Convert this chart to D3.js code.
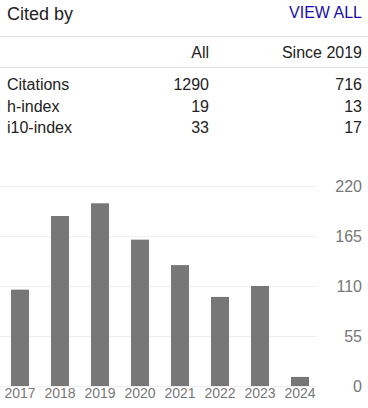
<!DOCTYPE html>
<html>
<head>
  <script src="https://d3js.org/d3.v7.min.js"></script>
  <style>
    body { margin: 0; background: #fff; }
    svg { display: block; font-family: Arial, "Liberation Sans", sans-serif; }
  </style>
</head>
<body>
  <div id="chart"></div>
  <script>
    // table data
    const columns = ["All", "Since 2019"];
    const rowLabels = ["Citations", "h-index", "i10-index"];
    const allValues = [1290, 19, 33];
    const sinceValues = [716, 13, 17];

    // citations per year
    const years = ["2017", "2018", "2019", "2020", "2021", "2022", "2023", "2024"];
    const counts = [106, 187, 201, 161, 133, 98, 110, 10];
    const yTicks = [0, 55, 110, 165, 220];

    const W = 368, H = 408;

    const svg = d3.select("#chart")
      .append("svg")
      .attr("width", W)
      .attr("height", H);

    // header
    svg.append("text")
      .attr("x", 7)
      .attr("y", 19.5)
      .attr("font-size", 18)
      .attr("fill", "#222")
      .text("Cited by");

    svg.append("text")
      .attr("x", 362)
      .attr("y", 17.5)
      .attr("text-anchor", "end")
      .attr("font-size", 16)
      .attr("fill", "#1a0dab")
      .text("VIEW ALL");

    svg.append("line")
      .attr("x1", 0).attr("x2", W)
      .attr("y1", 36.5).attr("y2", 36.5)
      .attr("stroke", "#e0e0e0");

    // column heads
    const colX = [209, 362];
    svg.selectAll(".colhead")
      .data(columns)
      .enter().append("text")
      .attr("class", "colhead")
      .attr("x", (d, i) => colX[i])
      .attr("y", 57.5)
      .attr("text-anchor", "end")
      .attr("font-size", 16)
      .attr("fill", "#222")
      .text(d => d);

    svg.append("line")
      .attr("x1", 0).attr("x2", W)
      .attr("y1", 67.5).attr("y2", 67.5)
      .attr("stroke", "#e0e0e0");

    const rowY = [90, 111.5, 133];
    const rows = svg.selectAll(".row")
      .data(rowLabels)
      .enter().append("g")
      .attr("class", "row")
      .attr("font-size", 16)
      .attr("fill", "#222");

    rows.append("text")
      .attr("x", 7)
      .attr("y", (d, i) => rowY[i])
      .text(d => d);

    rows.append("text")
      .attr("x", colX[0])
      .attr("y", (d, i) => rowY[i])
      .attr("text-anchor", "end")
      .text((d, i) => allValues[i]);

    rows.append("text")
      .attr("x", colX[1])
      .attr("y", (d, i) => rowY[i])
      .attr("text-anchor", "end")
      .text((d, i) => sinceValues[i]);

    // bar chart
    const x = d3.scaleBand()
      .domain(years)
      .range([0, 320])
      .paddingInner(0.55)
      .paddingOuter(0.275);

    const y = d3.scaleLinear()
      .domain([0, 220])
      .range([386, 186]);

    svg.selectAll(".grid")
      .data(yTicks)
      .enter().append("line")
      .attr("class", "grid")
      .attr("x1", 0).attr("x2", 317)
      .attr("y1", d => Math.round(y(d)) + 0.5)
      .attr("y2", d => Math.round(y(d)) + 0.5)
      .attr("stroke", "#eeeeee");

    svg.selectAll(".ylab")
      .data(yTicks)
      .enter().append("text")
      .attr("class", "ylab")
      .attr("x", 362)
      .attr("y", d => y(d))
      .attr("dy", "0.36em")
      .attr("text-anchor", "end")
      .attr("font-size", 16)
      .attr("fill", "#777")
      .text(d => d);

    svg.selectAll(".bar")
      .data(years)
      .enter().append("rect")
      .attr("class", "bar")
      .attr("x", d => x(d))
      .attr("y", (d, i) => y(counts[i]))
      .attr("width", x.bandwidth())
      .attr("height", (d, i) => y(0) - y(counts[i]))
      .attr("fill", "#777");

    svg.selectAll(".xlab")
      .data(years)
      .enter().append("text")
      .attr("class", "xlab")
      .attr("x", d => x(d) + x.bandwidth() / 2)
      .attr("y", 397.5)
      .attr("text-anchor", "middle")
      .attr("font-size", 14)
      .attr("fill", "#777")
      .text(d => d);
  </script>
</body>
</html>
